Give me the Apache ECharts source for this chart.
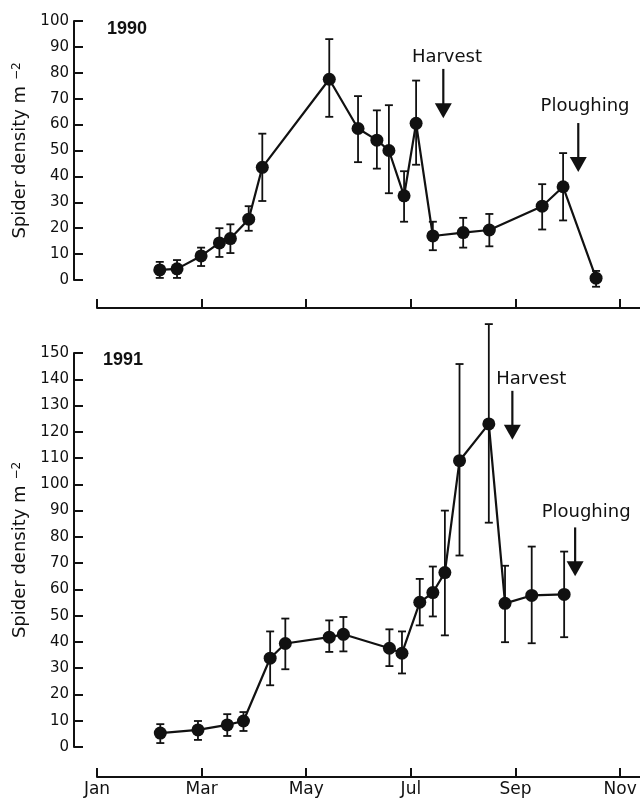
<!DOCTYPE html>
<html><head><meta charset="utf-8">
<script src="https://cdn.jsdelivr.net/npm/echarts@6/dist/echarts.min.js"></script>
<style>html,body{margin:0;padding:0;background:#fff}#c{width:640px;height:798px}</style>
</head><body><div id="c"></div>
<script>
// x values are months since 1 Jan (0 = Jan, 2 = Mar, ...)
const monthLabels = ['Jan','Feb','Mar','Apr','May','Jun','Jul','Aug','Sep','Oct','Nov'];
const monthTicks = [0, 2, 4, 6, 8, 10];

const date1990 = [1.20, 1.53, 1.99, 2.34, 2.55, 2.90, 3.16, 4.44, 4.99, 5.35, 5.58, 5.87, 6.10, 6.42, 7.00, 7.50, 8.51, 8.91, 9.54];
const mean1990 = [3.9, 4.3, 9.3, 14.3, 16.0, 23.5, 43.5, 77.5, 58.5, 54.0, 50.0, 32.5, 60.5, 17.0, 18.3, 19.3, 28.5, 36.0, 0.7];
const low1990  = [0.8, 0.8, 5.4, 8.9, 10.4, 19.0, 30.5, 63.0, 45.5, 43.0, 33.5, 22.5, 44.5, 11.5, 12.5, 13.0, 19.5, 23.0, -2.6];
const high1990 = [7.0, 7.7, 12.5, 20.0, 21.5, 28.5, 56.5, 93.0, 71.0, 65.5, 67.5, 42.0, 77.0, 22.5, 24.0, 25.5, 37.0, 49.0, 3.5];

const date1991 = [1.21, 1.93, 2.49, 2.80, 3.31, 3.60, 4.44, 4.71, 5.59, 5.83, 6.17, 6.42, 6.65, 6.93, 7.49, 7.80, 8.31, 8.93];
const mean1991 = [5.3, 6.5, 8.4, 9.9, 33.8, 39.4, 41.8, 42.9, 37.6, 35.7, 55.1, 58.8, 66.4, 109, 123, 54.7, 57.7, 58.1];
const low1991  = [1.5, 2.7, 4.2, 6.1, 23.5, 29.6, 36.2, 36.4, 30.8, 28.0, 46.3, 49.7, 42.5, 72.9, 85.4, 39.9, 39.5, 41.8];
const high1991 = [8.7, 9.9, 12.5, 13.3, 44.0, 48.9, 48.2, 49.5, 44.8, 44.0, 64.0, 68.7, 90.0, 145.8, 161, 69.0, 76.3, 74.4];

// annotations: [arrow x, arrow top y, arrow tip y, text x, text y]
const eventNames = ['Harvest', 'Ploughing'];
const events1990 = [[6.62, 81.5, 62.5, 6.69, 86.0], [9.20, 60.6, 41.7, 9.33, 67.2]];
const events1991 = [[7.94, 135.6, 117.0, 8.30, 139.8], [9.14, 83.6, 65.0, 9.35, 89.3]];

const INK = '#111';
const FONT = '"DejaVu Sans", sans-serif';

function errItem(params, api) {
  const x = api.value(0);
  const lo = api.coord([x, api.value(1)]);
  const hi = api.coord([x, api.value(2)]);
  const w = 4;
  const st = { stroke: INK, lineWidth: 1.8 };
  return { type: 'group', children: [
    { type: 'line', shape: { x1: lo[0], y1: lo[1], x2: hi[0], y2: hi[1] }, style: st },
    { type: 'line', shape: { x1: lo[0] - w, y1: lo[1], x2: lo[0] + w, y2: lo[1] }, style: st },
    { type: 'line', shape: { x1: hi[0] - w, y1: hi[1], x2: hi[0] + w, y2: hi[1] }, style: st }
  ]};
}

function arrowItem(params, api) {
  const top = api.coord([api.value(0), api.value(1)]);
  const tip = api.coord([api.value(0), api.value(2)]);
  const txt = api.coord([api.value(3), api.value(4)]);
  const hh = 15, hw = 17;
  return { type: 'group', children: [
    { type: 'line', shape: { x1: top[0], y1: top[1], x2: tip[0], y2: tip[1] - hh + 1 }, style: { stroke: INK, lineWidth: 2.2 } },
    { type: 'polygon', shape: { points: [[tip[0] - hw / 2, tip[1] - hh], [tip[0] + hw / 2, tip[1] - hh], [tip[0], tip[1]]] }, style: { fill: INK } },
    { type: 'text', x: txt[0], y: txt[1], style: { text: eventNames[params.dataIndex], fill: INK, font: '500 18px ' + FONT, textAlign: 'center', textVerticalAlign: 'middle' } }
  ]};
}

function zip3(a, b, c) { return a.map((v, i) => [v, b[i], c[i]]); }
function zip2(a, b) { return a.map((v, i) => [v, b[i]]); }

const xAxisBase = (gi, showLabels) => ({
  type: 'value', gridIndex: gi, min: 0, max: 10.38, interval: 2, offset: gi === 0 ? 28 : 30,
  axisLine: { show: true, onZero: false, lineStyle: { color: INK, width: 2 } },
  axisTick: { show: true, inside: true, length: 9, customValues: monthTicks, lineStyle: { color: INK, width: 2 } },
  axisLabel: { show: showLabels, customValues: monthTicks, margin: 4, color: INK, fontFamily: FONT, fontSize: 17,
    formatter: v => monthLabels[Math.round(v)] || '' },
  splitLine: { show: false }
});

const yName = 'Spider density m {sup|−2}';
const yAxisBase = (gi, max) => ({
  type: 'value', gridIndex: gi, min: 0, max: max, interval: 10, offset: 23,
  name: yName, nameLocation: 'middle', nameRotate: 90, nameGap: 38,
  nameTextStyle: { color: INK, fontFamily: FONT, fontSize: 18,
    rich: { sup: { fontSize: 12, color: INK, fontFamily: FONT, verticalAlign: 'top', padding: [0, 0, 8, 0] } } },
  axisLine: { show: true, onZero: false, lineStyle: { color: INK, width: 2 } },
  axisTick: { show: true, inside: true, length: 9, lineStyle: { color: INK, width: 2 } },
  axisLabel: { margin: 5, color: INK, fontFamily: FONT, fontSize: 15 },
  splitLine: { show: false }
});

const chart = echarts.init(document.getElementById('c'), null, { renderer: 'canvas' });
chart.setOption({
  backgroundColor: '#fff',
  animation: false,
  title: [
    { text: '1990', left: 107, top: 20, padding: 0, textStyle: { fontFamily: '"Liberation Sans", Arial, sans-serif', fontWeight: 'bold', fontSize: 18, color: INK } },
    { text: '1991', left: 103, top: 351, padding: 0, textStyle: { fontFamily: '"Liberation Sans", Arial, sans-serif', fontWeight: 'bold', fontSize: 18, color: INK } }
  ],
  grid: [
    { left: 97, width: 543, top: 21, height: 259 },
    { left: 97, width: 543, top: 353, height: 395 }
  ],
  xAxis: [xAxisBase(0, false), xAxisBase(1, true)],
  yAxis: [yAxisBase(0, 100), yAxisBase(1, 150)],
  series: [
    { type: 'custom', xAxisIndex: 0, yAxisIndex: 0, renderItem: errItem, data: zip3(date1990, low1990, high1990), clip: false, z: 2 },
    { type: 'line', xAxisIndex: 0, yAxisIndex: 0, data: zip2(date1990, mean1990), symbol: 'circle', symbolSize: 13,
      itemStyle: { color: INK }, lineStyle: { color: INK, width: 2.2 }, z: 3 },
    { type: 'custom', xAxisIndex: 0, yAxisIndex: 0, renderItem: arrowItem, data: events1990, clip: false, z: 4 },
    { type: 'custom', xAxisIndex: 1, yAxisIndex: 1, renderItem: errItem, data: zip3(date1991, low1991, high1991), clip: false, z: 2 },
    { type: 'line', xAxisIndex: 1, yAxisIndex: 1, data: zip2(date1991, mean1991), symbol: 'circle', symbolSize: 13,
      itemStyle: { color: INK }, lineStyle: { color: INK, width: 2.2 }, z: 3 },
    { type: 'custom', xAxisIndex: 1, yAxisIndex: 1, renderItem: arrowItem, data: events1991, clip: false, z: 4 }
  ]
});
</script></body></html>
